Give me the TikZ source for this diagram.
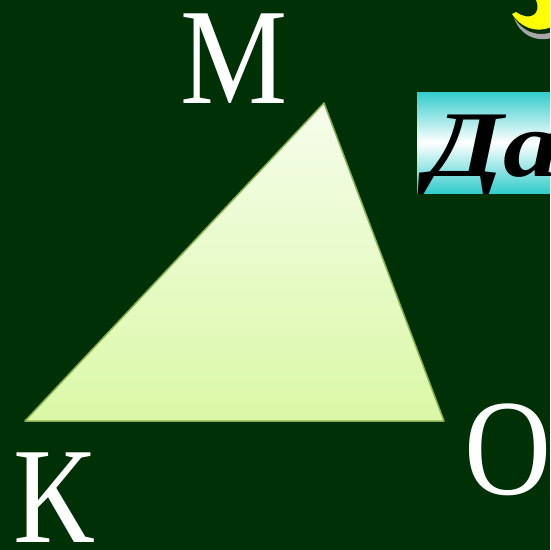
\documentclass[tikz,border=0pt]{standalone}
\usepackage{fontspec}
\setmainfont{Liberation Serif}
\definecolor{bg}{HTML}{003006}
\definecolor{trifill1}{HTML}{F6FDEC}
\definecolor{trifill2}{HTML}{DAF8A6}
\definecolor{triedge}{HTML}{8CB050}
\definecolor{cyanbox}{HTML}{33CCCC}
\definecolor{moon}{HTML}{FFFF00}
\tikzset{
  lbl/.style={text=white, font=\fontsize{137}{137}\selectfont, inner sep=0pt, xscale=0.88},
}
\begin{document}
\begin{tikzpicture}[x=1pt,y=-1pt]
\useasboundingbox (0,0) rectangle (550,550);
\clip (0,0) rectangle (550,550);
\fill[bg] (0,0) rectangle (550,550);
% triangle
\coordinate (M) at (324,103);
\coordinate (K) at (25,421);
\coordinate (O) at (444,421);
\shade[top color=trifill1, bottom color=trifill2, draw=triedge, line width=1.5pt, line join=round] (M) -- (K) -- (O) -- cycle;
% labels
\node[lbl, anchor=base] (lm) at (234,103) {М};
\node[lbl, anchor=base] (lk) at (54,542) {К};
\node[lbl, anchor=base] (lo) at (508,494) {О};
% crescent
\fill[gray!70] (514,18) .. controls (526,36) and (545,38) .. (560,28) -- (560,34) .. controls (545,44) and (522,40) .. (514,18) -- cycle;
\fill[moon] (512,14) .. controls (524,32) and (544,34) .. (560,22) -- (560,0) -- (536,0) .. controls (542,14) and (530,22) .. (516,12) -- cycle;
% box
\shade[top color=cyanbox, bottom color=cyanbox, middle color=white] (417,92) rectangle (560,193);
\begin{scope}
\clip (417,92) rectangle (560,193);
\node[anchor=base west, inner sep=0pt, xscale=1.2, font=\fontsize{94}{94}\selectfont\bfseries\itshape] (da) at (426,176) {Да};
\end{scope}
\end{tikzpicture}
\end{document}
